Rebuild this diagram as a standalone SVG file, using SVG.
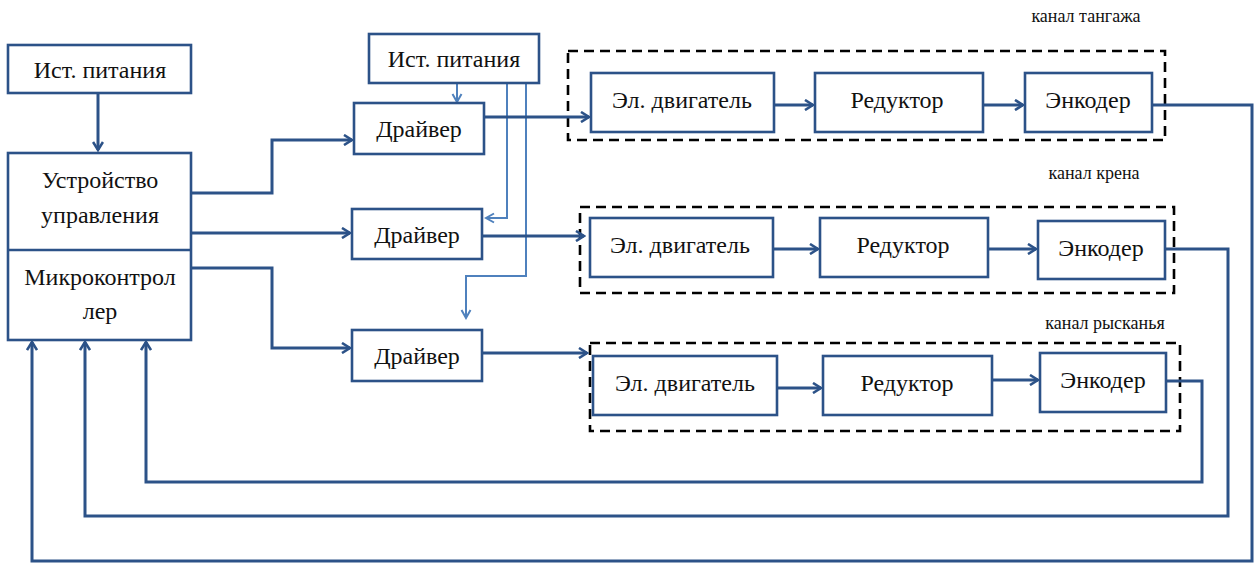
<svg xmlns="http://www.w3.org/2000/svg" width="1255" height="565" viewBox="0 0 1255 565">
  <defs>
    <marker id="arr" viewBox="0 0 12 12" refX="10" refY="6" markerWidth="12" markerHeight="12" markerUnits="userSpaceOnUse" orient="auto">
      <path d="M2,1 L10,6 L2,11" fill="none" stroke="#2c5288" stroke-width="2.6"/>
    </marker>
    <marker id="arrL" viewBox="0 0 12 12" refX="10" refY="6" markerWidth="12" markerHeight="12" markerUnits="userSpaceOnUse" orient="auto">
      <path d="M2,1.5 L10,6 L2,10.5" fill="none" stroke="#4f81bd" stroke-width="2"/>
    </marker>
    <style>
      .box { fill: #ffffff; stroke: #2c5288; stroke-width: 2.6; }
      .grp { fill: none; stroke: #000000; stroke-width: 2.6; stroke-dasharray: 10 6; }
      .nm { fill: #111111; text-anchor: middle; }
      .lbl { font-size: 18px; fill: #111111; text-anchor: middle; }
      .c { fill: none; stroke: #2c5288; stroke-width: 3; }
      .p { fill: none; stroke: #4f81bd; stroke-width: 2; }
    </style>
  </defs>

  <!-- channel frames -->
  <g id="channels">
    <rect class="grp" x="568" y="51" width="597" height="89"/>
    <text class="lbl" x="1086" y="22" font-family="Liberation Serif">канал тангажа</text>
    <rect class="grp" x="580" y="207" width="594" height="86"/>
    <text class="lbl" x="1094" y="179" font-family="Liberation Serif">канал крена</text>
    <rect class="grp" x="590" y="343" width="590" height="88"/>
    <text class="lbl" x="1105" y="329" font-family="Liberation Serif">канал рысканья</text>
  </g>

  <!-- connectors -->
  <g id="connectors">
    <path class="c" d="M98,93 V150" marker-end="url(#arr)"/>
    <path class="c" d="M191,193 H272 V140 H352" marker-end="url(#arr)"/>
    <path class="c" d="M191,233 H350" marker-end="url(#arr)"/>
    <path class="c" d="M191,268 H272 V348 H350" marker-end="url(#arr)"/>

    <path class="p" d="M457,83 V102" marker-end="url(#arrL)"/>
    <path class="p" d="M507,83 V218 H486" marker-end="url(#arrL)"/>
    <path class="p" d="M526,83 V276 H466 V318" marker-end="url(#arrL)"/>

    <path class="c" d="M484,117 H589" marker-end="url(#arr)"/>
    <path class="c" d="M482,236 H584" marker-end="url(#arr)"/>
    <path class="c" d="M482,353 H587" marker-end="url(#arr)"/>

    <path class="c" d="M774,105 H813" marker-end="url(#arr)"/>
    <path class="c" d="M983,105 H1023" marker-end="url(#arr)"/>
    <path class="c" d="M773,249 H818" marker-end="url(#arr)"/>
    <path class="c" d="M988,249 H1036" marker-end="url(#arr)"/>
    <path class="c" d="M777,388 H821" marker-end="url(#arr)"/>
    <path class="c" d="M992,380 H1038" marker-end="url(#arr)"/>

    <path class="c" d="M1152,105 H1252 V561 H32 V342" marker-end="url(#arr)"/>
    <path class="c" d="M1165,249 H1228 V516 H85 V342" marker-end="url(#arr)"/>
    <path class="c" d="M1166,381 H1202 V482 H146 V342" marker-end="url(#arr)"/>
  </g>

  <g id="power-main">
    <rect class="box" x="8" y="45" width="183" height="48"/>
    <text class="nm" x="100" y="78" font-family="Liberation Serif" font-size="24">Ист. питания</text>
  </g>

  <g id="controller">
    <rect class="box" x="8" y="153" width="183" height="187"/>
    <line class="box" x1="8" y1="250" x2="191" y2="250"/>
    <text class="nm" x="100" y="188" font-family="Liberation Serif" font-size="24">Устройство</text>
    <text class="nm" x="100" y="223" font-family="Liberation Serif" font-size="24">управления</text>
    <text class="nm" x="100" y="285" font-family="Liberation Serif" font-size="24">Микроконтрол</text>
    <text class="nm" x="100" y="319" font-family="Liberation Serif" font-size="24">лер</text>
  </g>

  <g id="power-drivers">
    <rect class="box" x="369" y="34" width="170" height="49"/>
    <text class="nm" x="454" y="67" font-family="Liberation Serif" font-size="24">Ист. питания</text>
  </g>

  <g id="driver-1">
    <rect class="box" x="354" y="103" width="130" height="51"/>
    <text class="nm" x="419" y="137" font-family="Liberation Serif" font-size="24">Драйвер</text>
  </g>
  <g id="driver-2">
    <rect class="box" x="352" y="209" width="130" height="50"/>
    <text class="nm" x="417" y="243" font-family="Liberation Serif" font-size="24">Драйвер</text>
  </g>
  <g id="driver-3">
    <rect class="box" x="352" y="330" width="130" height="51"/>
    <text class="nm" x="417" y="364" font-family="Liberation Serif" font-size="24">Драйвер</text>
  </g>

  <g id="motor-1">
    <rect class="box" x="591" y="73" width="183" height="59"/>
    <text class="nm" x="682" y="108" font-family="Liberation Serif" font-size="24">Эл. двигатель</text>
  </g>
  <g id="gear-1">
    <rect class="box" x="815" y="73" width="168" height="59"/>
    <text class="nm" x="897" y="108" font-family="Liberation Serif" font-size="24">Редуктор</text>
  </g>
  <g id="encoder-1">
    <rect class="box" x="1025" y="73" width="127" height="59"/>
    <text class="nm" x="1088" y="108" font-family="Liberation Serif" font-size="24">Энкодер</text>
  </g>

  <g id="motor-2">
    <rect class="box" x="590" y="218" width="183" height="59"/>
    <text class="nm" x="680" y="253" font-family="Liberation Serif" font-size="24">Эл. двигатель</text>
  </g>
  <g id="gear-2">
    <rect class="box" x="820" y="218" width="168" height="59"/>
    <text class="nm" x="903" y="253" font-family="Liberation Serif" font-size="24">Редуктор</text>
  </g>
  <g id="encoder-2">
    <rect class="box" x="1038" y="221" width="127" height="58"/>
    <text class="nm" x="1101" y="256" font-family="Liberation Serif" font-size="24">Энкодер</text>
  </g>

  <g id="motor-3">
    <rect class="box" x="593" y="356" width="184" height="59"/>
    <text class="nm" x="685" y="391" font-family="Liberation Serif" font-size="24">Эл. двигатель</text>
  </g>
  <g id="gear-3">
    <rect class="box" x="823" y="356" width="169" height="59"/>
    <text class="nm" x="907" y="391" font-family="Liberation Serif" font-size="24">Редуктор</text>
  </g>
  <g id="encoder-3">
    <rect class="box" x="1040" y="353" width="126" height="59"/>
    <text class="nm" x="1103" y="388" font-family="Liberation Serif" font-size="24">Энкодер</text>
  </g>
</svg>
